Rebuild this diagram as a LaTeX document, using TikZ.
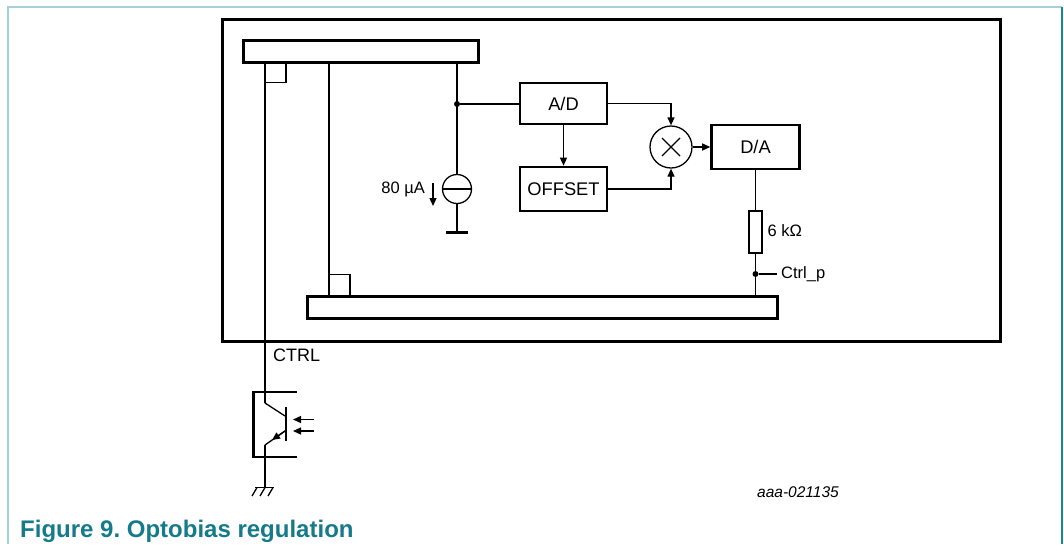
\documentclass[tikz,border=0pt]{standalone}
\usepackage{fontspec}
\setmainfont{Liberation Sans}
\usetikzlibrary{arrows.meta,calc}
\definecolor{framelight}{RGB}{165,208,217}
\definecolor{framedark}{RGB}{24,136,152}
\definecolor{captionteal}{RGB}{21,122,138}
\frenchspacing
\begin{document}
\begin{tikzpicture}[x=1pt,y=-1pt,
  thin line/.style={line width=1.3pt},
  thick line/.style={line width=3pt},
  blk/.style={draw,line width=2.6pt,inner sep=0pt,font=\fontsize{18.3}{20}\selectfont},
  bar/.style={draw,line width=3pt,inner sep=0pt},
  arr/.style={thin line,-{Triangle[length=8pt,width=7pt]}},
  lbl/.style={inner sep=0pt,font=\fontsize{16.5}{19}\selectfont},
  dot/.style={circle,fill,inner sep=0pt,minimum size=6pt}
]
\useasboundingbox (0,0) rectangle (1064,544);
% outer frame
\draw[framelight,line width=2pt] (8,544) -- (8,7) -- (1062,7);
\draw[framedark,line width=2pt] (1062,7) -- (1062,544);

% main box and bars
\node[draw,line width=3pt,inner sep=0pt,minimum width=778pt,minimum height=322pt,anchor=north west] (main) at (221,18) {};
\node[bar,minimum width=235pt,minimum height=22pt] (topbar) at (360.5,51) {};
\node[bar,minimum width=470pt,minimum height=22pt] (botbar) at (542,307) {};

% blocks
\node[blk,minimum width=87pt,minimum height=41pt] (ad) at (563.5,103.5) {A/D};
\node[blk,minimum width=87pt,minimum height=44pt] (offset) at (563.5,189) {OFFSET};
\node[blk,minimum width=88pt,minimum height=44pt] (da) at (755.5,147) {D/A};
\node[draw,thin line,circle,minimum size=42pt,inner sep=0pt] (mult) at (671,147) {};
\draw[thin line] ($(mult.center)+(-9,-9)$) -- ($(mult.center)+(9,9)$);
\draw[thin line] ($(mult.center)+(-9,9)$) -- ($(mult.center)+(9,-9)$);
\node[draw,thin line,circle,minimum size=29pt,inner sep=0pt] (cs) at (457,189) {};
\draw[thin line] (cs.west) -- (cs.east);
\node[draw,thin line,minimum width=13pt,minimum height=42pt,inner sep=0pt] (res) at (755.5,232) {};

% coordinates
\coordinate (ctrltop) at (265,62);
\coordinate (coll) at (265,403);
\coordinate (n1) at (457,104);
\coordinate (gnd1) at (457,232);
\coordinate (n2) at (755.5,274);
\coordinate (ctrlp) at (777,274);

% left bus lines
\draw[thin line] (ctrltop) -- (coll);
\draw[thin line] (286,62) -- (286,82.5) -- (265,82.5);
\draw[thin line] (329,62) -- (329,296);
\draw[thin line] (329,274.5) -- (350,274.5) -- (350,296);

% current source branch
\draw[thin line] (457,62) -- (cs.north);
\node[dot] (d1) at (n1) {};
\draw[thin line] (d1) -- (d1 -| ad.west);
\draw[thin line] (cs.south) -- (gnd1);
\draw[thick line] (446,232) -- (468,232);
\draw[arr] (433,183) -- (433,206);
\node[lbl,anchor=east] (l80) at (425,189) {80 µA};

% signal path
\draw[arr] (ad.south) -- (offset.north);
\draw[arr] (ad.east) -| (mult.north);
\draw[arr] (offset.east) -| (mult.south);
\draw[arr] (mult.east) -- (da.west);
\draw[thin line] (da.south) -- (res.north);
\draw[thin line] (res.south) -- (res.south |- botbar.north);
\node[dot] (d2) at (n2) {};
\draw[thin line] (d2) -- (ctrlp);
\node[lbl,anchor=west] (l6k) at (767.5,230.5) {6 kΩ};
\node[lbl,anchor=west] (lctrlp) at (781,274) {Ctrl\_p};

% CTRL label
\node[lbl,anchor=west,font=\fontsize{18}{20}\selectfont] (lctrl) at (273,355) {CTRL};

% phototransistor
\draw[line width=2.6pt] (297,392) -- (253.5,392) -- (253.5,457) -- (297,457);
\draw[thin line] (coll) -- (285,416);
\draw[line width=2.6pt] (286,407) -- (286,441);
\draw[thin line] (285,431) -- (265,445);
\draw[thin line,-{Triangle[length=8pt,width=7pt]}] (285,431) -- (272,440);
\coordinate (emit) at (265,445);
\coordinate (gnd2) at (265,487.5);
\draw[thin line] (emit) -- (gnd2);
\draw[arr] (314,419.5) -- (293,419.5);
\draw[arr] (314,431) -- (293,431);
% chassis ground
\draw[thin line] (255,487.5) -- (274,487.5);
\foreach \gx in {257,265,273} \draw[thin line] (\gx,487.5) -- (\gx-5,496);

% labels
\node[inner sep=0pt,anchor=west,font=\fontsize{15.5}{17}\selectfont\itshape] (code) at (757,492) {aaa-021135};
\node[inner sep=0pt,anchor=base west,text=captionteal,font=\fontsize{24}{28}\selectfont\bfseries] (cap) at (20,537) {Figure 9. Optobias regulation};
\end{tikzpicture}
\end{document}
